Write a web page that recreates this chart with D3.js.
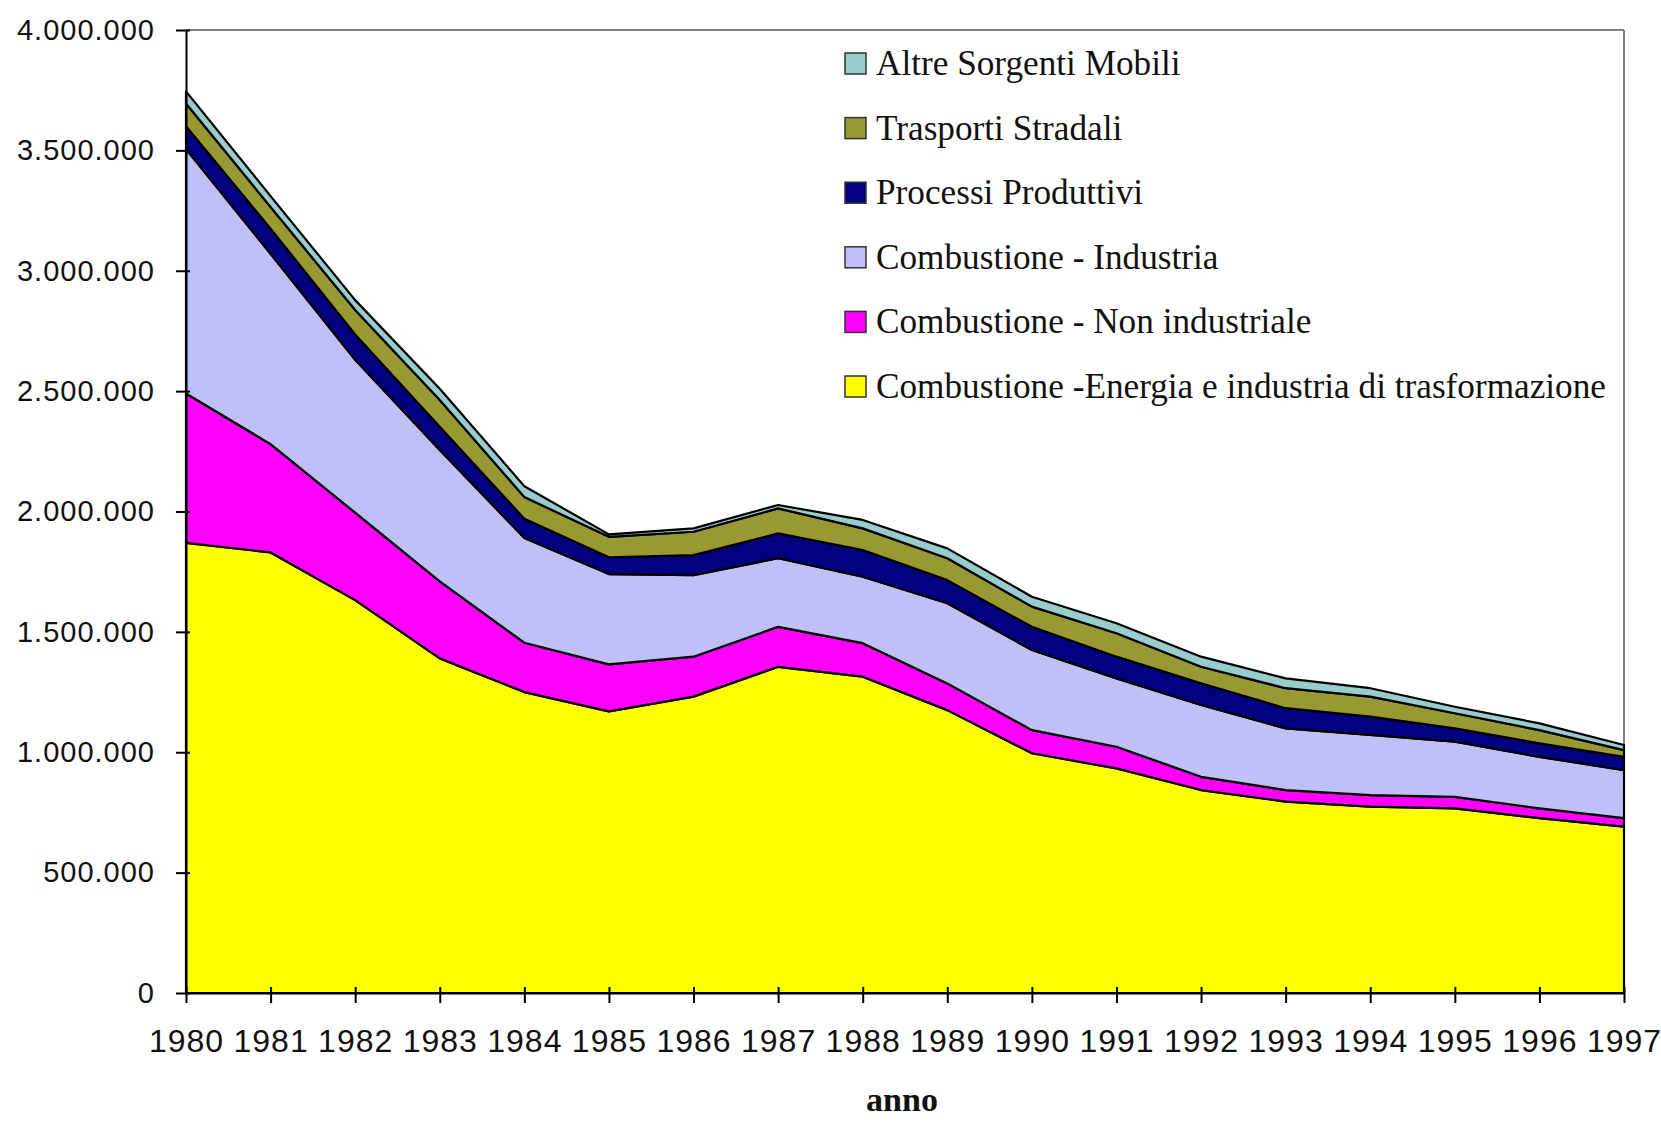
<!DOCTYPE html>
<html>
<head>
<meta charset="utf-8">
<script src="https://cdn.jsdelivr.net/npm/d3@7"></script>
<style>
  body { margin: 0; background: #fff; }
  svg { display: block; }
</style>
</head>
<body>
<svg id="chart" width="1661" height="1122"></svg>
<script>
// ---------------- DATA ----------------
const years = [1980,1981,1982,1983,1984,1985,1986,1987,1988,1989,1990,1991,1992,1993,1994,1995,1996,1997];

const energia    = [1870000,1830000,1632000,1390000,1250000,1170000,1231000,1355000,1314000,1175000,996000,933000,843000,795000,774000,767000,726000,691000];
const nonInd     = [620000,450000,363000,320000,205000,195000,166000,166000,139000,111000,96000,90000,55000,48000,48000,48000,41000,35000];
const industria  = [1015000,790000,635000,545000,435000,375000,339000,285000,276000,333000,333000,284000,298000,256000,250000,229000,214000,200000];
const processi   = [95000,105000,105000,97000,80000,70000,83000,103000,111000,96000,96000,90000,90000,84000,76000,55000,56000,55000];
const trasporti  = [95000,90000,102000,111000,90000,85000,97000,104000,90000,91000,84000,97000,69000,83000,83000,63000,55000,28000];
const altre      = [50000,45000,41000,47000,45000,10000,14000,14000,35000,41000,41000,42000,42000,41000,35000,27000,28000,21000];

const seriesNames = [
  "Combustione -Energia e industria di trasformazione",
  "Combustione - Non industriale",
  "Combustione - Industria",
  "Processi Produttivi",
  "Trasporti Stradali",
  "Altre Sorgenti Mobili"
];
const seriesValues = [energia, nonInd, industria, processi, trasporti, altre];

const yTickValues = [0,500000,1000000,1500000,2000000,2500000,3000000,3500000,4000000];
const xAxisTitle = "anno";

// ---------------- STYLE ----------------
const colors = ["#FFFF00", "#FF00FF", "#C0C0F8", "#000080", "#999933", "#99CCCC"];

// ---------------- BUILD ----------------
const table = years.map((yr, i) => {
  const row = { year: yr };
  seriesNames.forEach((n, k) => row[n] = seriesValues[k][i]);
  return row;
});

const svg = d3.select("#chart");
const pLeft = 186, pRight = 1624, pTop = 30, pBottom = 993;

const x = d3.scaleLinear().domain([1980, 1997]).range([pLeft, pRight]);
const y = d3.scaleLinear().domain([0, 4000000]).range([pBottom, pTop]);

const stack = d3.stack().keys(seriesNames);
const layers = stack(table);

const area = d3.area()
  .x(d => x(d.data.year))
  .y0(d => y(d[0]))
  .y1(d => y(d[1]))
  .curve(d3.curveLinear);

// plot frame (top and right, grey)
svg.append("line").attr("x1", pLeft).attr("x2", pRight).attr("y1", pTop).attr("y2", pTop)
  .attr("stroke", "#808080").attr("stroke-width", 2);
svg.append("line").attr("x1", pRight).attr("x2", pRight).attr("y1", pTop).attr("y2", pBottom)
  .attr("stroke", "#808080").attr("stroke-width", 2);

svg.append("g").selectAll("path")
  .data(layers)
  .join("path")
  .attr("d", area)
  .attr("fill", (d, i) => colors[i])
  .attr("stroke", "#000")
  .attr("stroke-width", 2.2)
  .attr("stroke-linejoin", "round");

// formatting with "." as thousands separator
const itLocale = d3.formatLocale({ decimal: ",", thousands: ".", grouping: [3], currency: ["", ""] });
const fmt = itLocale.format(",d");

// Y axis
const yAxis = d3.axisLeft(y).tickValues(yTickValues).tickFormat(fmt)
  .tickSizeOuter(0).tickSizeInner(10).tickPadding(21);
const gy = svg.append("g").attr("transform", `translate(${pLeft},0)`).call(yAxis);
gy.select(".domain").attr("stroke", "#000").attr("stroke-width", 2);
gy.selectAll(".tick line").attr("stroke", "#000").attr("stroke-width", 2).attr("x2", -10).attr("x1", 4);
gy.selectAll(".tick text")
  .attr("font-family", "'Liberation Sans', Arial, sans-serif")
  .attr("font-size", 29).attr("letter-spacing", 1).attr("fill", "#111");

// X axis
const xAxis = d3.axisBottom(x).tickValues(years).tickFormat(d3.format("d"))
  .tickSizeOuter(0).tickSizeInner(10).tickPadding(26);
const gx = svg.append("g").attr("transform", `translate(0,${pBottom})`).call(xAxis);
gx.select(".domain").attr("stroke", "#000").attr("stroke-width", 2);
gx.selectAll(".tick line").attr("stroke", "#000").attr("stroke-width", 2).attr("y1", -6).attr("y2", 10);
gx.selectAll(".tick text")
  .attr("font-family", "'Liberation Sans', Arial, sans-serif")
  .attr("font-size", 32).attr("letter-spacing", 1).attr("fill", "#111");

// X axis title
svg.append("text")
  .attr("x", 902).attr("y", 1111)
  .attr("text-anchor", "middle")
  .attr("font-family", "'Liberation Serif', 'Times New Roman', serif")
  .attr("font-weight", "bold")
  .attr("font-size", 34)
  .attr("fill", "#111")
  .text(xAxisTitle);

// Legend (reverse order: top item = last series)
const legendOrder = seriesNames.map((n, i) => i).reverse();
const lg = svg.append("g");
const rowStep = 64.6, firstBaseline = 75;
const items = lg.selectAll("g.item").data(legendOrder).join("g").attr("class", "item");
items.append("rect")
  .attr("x", 845).attr("y", (d, j) => firstBaseline + j * rowStep - 22)
  .attr("width", 21).attr("height", 21)
  .attr("fill", d => colors[d])
  .attr("stroke", "#333").attr("stroke-width", 1.5);
const texts = items.append("text")
  .attr("font-family", "'Liberation Serif', 'Times New Roman', serif")
  .attr("font-size", 35)
  .attr("fill", "#111")
  .text(d => seriesNames[d]);
// condense horizontally to match the reference's narrow serif
let maxW = 0;
texts.each(function() { maxW = Math.max(maxW, this.getComputedTextLength()); });
const sx = 730 / maxW;
texts.attr("transform", (d, j) => `translate(876,${firstBaseline + j * rowStep}) scale(${sx},1)`);
</script>
</body>
</html>
